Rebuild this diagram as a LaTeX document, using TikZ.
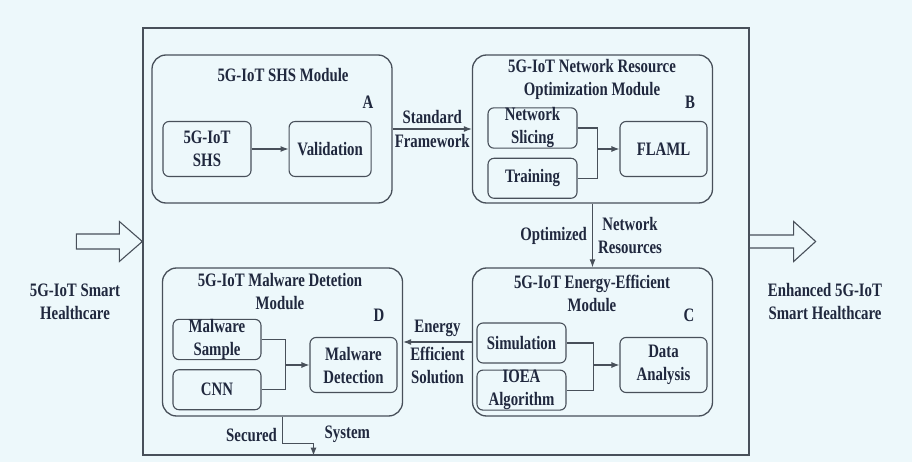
\documentclass[tikz,border=0pt]{standalone}
\usepackage{fontspec}
\setmainfont{Liberation Serif}[FakeStretch=0.78]
\usetikzlibrary{arrows.meta,positioning}
\definecolor{bgcol}{RGB}{237,248,251}
\definecolor{linecol}{RGB}{72,80,90}
\definecolor{txtcol}{RGB}{32,40,62}

\begin{document}
\begin{tikzpicture}[
		x=1pt, y=-1pt,
		font=\fontsize{19}{23}\selectfont\bfseries,
		every node/.style={text=txtcol},
		outerbox/.style={draw=linecol, line width=1.3pt, minimum width=606pt, minimum height=427pt, inner sep=0pt},
		module/.style={draw=linecol, line width=1.3pt, rounded corners=14pt, minimum width=240pt, minimum height=148pt, inner sep=0pt},
		block/.style={draw=linecol, line width=1.1pt, rounded corners=6pt, minimum width=88pt, minimum height=40pt, inner sep=0pt, align=center},
		tall/.style={block, minimum height=55pt},
		ttl/.style={align=center, inner sep=0pt},
		lbl/.style={align=center, inner sep=5pt},
		wire/.style={draw=linecol, line width=1.1pt},
		arrow/.style={wire, -{Latex[length=8pt,width=6pt]}},
		hollow/.style={draw=linecol, line width=1.1pt, line join=miter},
	]
		\fill[bgcol] (0,0) rectangle (912,462);
		\node[outerbox] (sys) at (446,241.5) {};

		\node[module] (shs) at (272,129) {};
		\node[module] (nro) at (592.5,129) {};
		\node[module] (eef) at (592.5,342) {};
		\node[module] (mdm) at (282.5,342) {};

		\node[ttl] (shst) at (283,75) {5G-IoT SHS Module};
		\node[ttl] (nrot) at (592,79) {5G-IoT Network Resource\\Optimization Module};
		\node[ttl] (eeft) at (592,293) {5G-IoT Energy-Efficient\\Module};
		\node[ttl] (mdmt) at (280,292) {5G-IoT Malware Detetion\\Module};
		\node[ttl] (la) at (368,102) {A};
		\node[ttl] (lb) at (690,102) {B};
		\node[ttl] (lc) at (689,315) {C};
		\node[ttl] (ld) at (379,315) {D};

		\node[tall] (dev) at (207,149) {5G-IoT\\SHS};
		\node[tall, right=37pt of dev, minimum width=82pt] (val) {Validation};
		\node[block, minimum width=89pt] (slc) at (532.5,128) {Network\\Slicing};
		\node[block, minimum width=89pt, below=9pt of slc] (trn) {Training};
		\node[tall, minimum width=87pt] (flaml) at (663.5,149) {FLAML};
		\node[block, minimum width=89pt] (sim) at (521.5,343) {Simulation};
		\node[block, minimum width=89pt, below=6pt of sim] (ioea) {IOEA\\Algorithm};
		\node[tall, minimum width=87pt] (dat) at (663.5,365) {Data\\Analysis};
		\node[block] (smp) at (217,339.5) {Malware\\Sample};
		\node[block, below=9pt of smp] (cnn) {CNN};
		\node[tall, minimum width=87pt] (det) at (353.5,365) {Malware\\Detection};

		\node[ttl] (inl) at (75,302) {5G-IoT Smart\\Healthcare};
		\node[ttl] (outl) at (825,302) {Enhanced 5G-IoT\\Smart Healthcare};

		\draw[hollow] (sys.west) -- ++(-23,-20) -- ++(0,12.5) -- ++(-43,0) -- ++(0,15) -- ++(43,0) -- ++(0,12.5) -- cycle;
		\draw[hollow] (sys.east) ++(0,-6.5) -- ++(44,0) -- ++(0,-13.5) -- ++(22,20) -- ++(-22,20) -- ++(0,-13.5) -- ++(-44,0);

		\draw[arrow] (dev) -- (val);
		\draw[arrow] (shs) -- (nro) node[lbl, midway, above] {Standard} node[lbl, midway, below] {Framework};
		\draw[wire] (slc.east) -- ++(20,0) coordinate (jb) |- (trn.east);
		\draw[arrow] (jb |- flaml) -- (flaml);
		\draw[arrow] (nro) -- (eef) node[lbl, midway, left] {Optimized} node[lbl, midway, right] {Network\\Resources};
		\draw[wire] (sim.east) -- ++(27,0) coordinate (jc) |- (ioea.east);
		\draw[arrow] (jc |- dat) -- (dat);
		\draw[arrow] (eef) -- (mdm) node[lbl, midway, above] {Energy} node[lbl, midway, below] {Efficient\\Solution};
		\draw[wire] (smp.east) -- ++(24,0) coordinate (jd) |- (cnn.east);
		\draw[arrow] (jd |- det) -- (det);
		\draw[arrow] (mdm.south) -- node[lbl, left, pos=0.67] {Secured} ++(0,27) -- ++(31,0) coordinate (sd) -- (sd |- sys.south);
		\node[lbl, above right=-4pt and 6pt of sd] (sst) {System};
	\end{tikzpicture}
\end{document}
